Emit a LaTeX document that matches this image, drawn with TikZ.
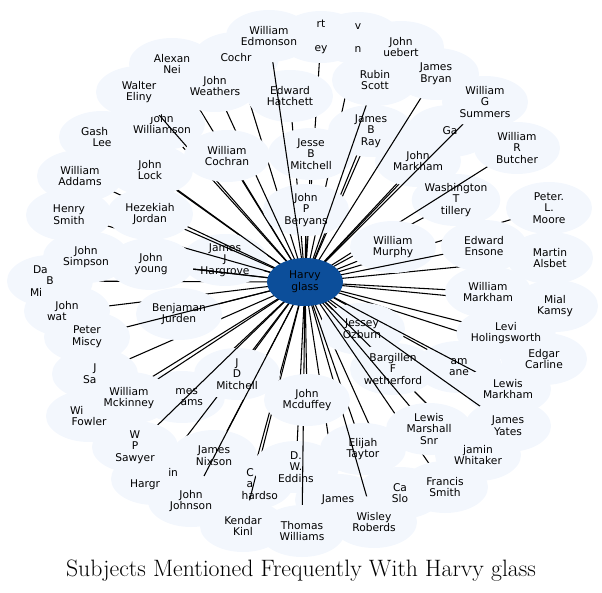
\documentclass[tikz,border=0pt]{standalone}
\usepackage{fontspec}
\newfontfamily\dejavu{DejaVu Sans}
\usetikzlibrary{shapes.geometric}
\definecolor{cloudfill}{RGB}{243,247,253}
\definecolor{hubblue}{RGB}{12,78,154}
\tikzset{
  edge/.style={draw=black,line width=0.8pt},
  subject/.style={ellipse,fill=cloudfill,draw=none,inner sep=0pt,
    minimum width=64.5pt,minimum height=39pt,align=center,
    font=\dejavu\fontsize{8}{8.8}\selectfont},
  subjtext/.style={inner sep=0pt,align=center,
    font=\dejavu\fontsize{8}{8.8}\selectfont},
  hub/.style={ellipse,fill=hubblue,draw=none,inner sep=0pt,
    minimum width=57pt,minimum height=36pt,align=center,
    font=\dejavu\fontsize{8}{8.8}\selectfont},
  titletext/.style={font=\fontsize{17.8}{21}\selectfont}
}
\newcommand\subjnode[3]{%
  \coordinate (#1-p) at #2;
  \draw[edge] (hc) -- (#1-p);
  \node[subject] (#1) at (#1-p) {#3};
}
\begin{document}
\begin{tikzpicture}[x=0.75pt,y=-0.75pt]
\useasboundingbox (0,0) rectangle (602,592);
\coordinate (hc) at (305,282);
% partly hidden nodes
\subjnode{fragrt}{(321,37)}{}
\subjnode{fragv}{(358,38)}{}
\subjnode{cochr}{(236,58)}{}
\subjnode{alexan}{(172,64)}{}
\subjnode{gash}{(102,137)}{}
\subjnode{dabmi}{(50,281)}{}
\subjnode{jsa}{(95,374)}{}
\subjnode{jadams}{(182,397)}{}
\subjnode{hargr}{(154,479)}{}
\subjnode{richardson}{(250,484)}{}
\subjnode{kendar}{(243,526)}{}
\subjnode{jamesq}{(338,500)}{}
\subjnode{caslo}{(400,493)}{}
\subjnode{whitaker}{(478,455)}{}
\subjnode{edgar}{(544,359)}{}
\subjnode{wfowler}{(89,416)}{}
\subjnode{jwatson}{(67,311)}{}
\subjnode{ga}{(450,131)}{}
\subjnode{jhuebert}{(401,47)}{}
\subjnode{amane}{(459,367)}{}
% inner nodes (crossed by later connectors)
\subjnode{hatchett}{(290,96)}{Edward\\Hatchett}
\subjnode{jbmitchell}{(311,154)}{Jesse\\B\\Mitchell}
\subjnode{jbray}{(371,131)}{James\\B\\Ray}
\subjnode{jmarkham}{(418,161)}{John\\Markham}
\subjnode{wttillery}{(456,200)}{Washington\\T\\tillery}
\subjnode{jjhargrove}{(225,260)}{James\\J\\Hargrove}
\subjnode{bjurden}{(179,314)}{Benjaman\\Jurden}
\subjnode{jwilliamson}{(162,124)}{John\\Williamson}
\subjnode{jnixson}{(214,456)}{James\\Nixson}
\subjnode{jdmitchell}{(237,374)}{J\\D\\Mitchell}
\subjnode{jozburn}{(362,329)}{Jessey\\Ozburn}
\subjnode{bfwetherford}{(393,369)}{Bargillen\\F\\wetherford}
\subjnode{etaytor}{(363,449)}{Elijah\\Taytor}
\subjnode{dweddins}{(296,467)}{D.\\W.\\Eddins}
\subjnode{jpberyans}{(306,210)}{John\\P\\Beryans}
% outer nodes
\subjnode{wedmonson}{(269,36)}{William\\Edmonson}
\subjnode{walter}{(139,92)}{Walter\\Eliny}
\subjnode{jweathers}{(215,86)}{John\\Weathers}
\subjnode{rscott}{(375,80)}{Rubin\\Scott}
\subjnode{jbryan}{(436,74)}{James\\Bryan}
\subjnode{wgsummers}{(485,102)}{William\\G\\Summers}
\subjnode{wrbutcher}{(517,148)}{William\\R\\Butcher}
\subjnode{plmoore}{(549,208)}{Peter.\\L.\\Moore}
\subjnode{malsbet}{(550,258)}{Martin\\Alsbet}
\subjnode{mkamsy}{(555,306)}{Mial\\Kamsy}
\subjnode{lmarkham}{(508,389)}{Lewis\\Markham}
\subjnode{jyates}{(508,426)}{James\\Yates}
\subjnode{fsmith}{(445,487)}{Francis\\Smith}
\subjnode{wroberds}{(374,522)}{Wisley\\Roberds}
\subjnode{twilliams}{(302,531)}{Thomas\\Williams}
\subjnode{jjohnson}{(191,501)}{John\\Johnson}
\subjnode{wpsawyer}{(135,447)}{W\\P\\Sawyer}
\subjnode{wmckinney}{(129,398)}{William\\Mckinney}
\subjnode{pmiscy}{(87,337)}{Peter\\Miscy}
\subjnode{jsimpson}{(86,257)}{John\\Simpson}
\subjnode{hsmith}{(69,215)}{Henry\\Smith}
\subjnode{waddams}{(80,176)}{William\\Addams}
% middle nodes
\subjnode{jlock}{(150,170)}{John\\Lock}
\subjnode{hjordan}{(150,214)}{Hezekiah\\Jordan}
\subjnode{jyoung}{(151,264)}{John\\young}
\subjnode{wcochran}{(227,156)}{William\\Cochran}
\subjnode{wmurphy}{(393,247)}{William\\Murphy}
\subjnode{eensone}{(484,246)}{Edward\\Ensone}
\subjnode{wmarkham}{(488,292)}{William\\Markham}
\subjnode{lholingsworth}{(506,333)}{Levi\\Holingsworth}
\subjnode{lmsnr}{(429,429)}{Lewis\\Marshall\\Snr}
\subjnode{jmcduffey}{(307,400)}{John\\Mcduffey}
% visible parts of the partly hidden labels
\node[subjtext] (amane-t) at (amane) {am\\ane};
\node[subjtext] (fragrt-t) at (fragrt) {rt\\\mbox{}\\ey};
\node[subjtext] (fragv-t) at (fragv) {v\\\mbox{}\\n};
\node[subjtext] (cochr-t) at (cochr) {Cochr};
\node[subjtext] (alexan-t) at (alexan) {Alexan\\Nei};
\node[subjtext] (gash-t) at (gash) {\makebox[31.5pt][l]{Gash}\\Lee};
\node[subjtext] (dabmi-t) at (dabmi) {\makebox[25.5pt][l]{Da}\\B\\\makebox[30pt][l]{Mi}};
\node[subjtext] (jsa-t) at (jsa) {J\\\makebox[18pt][l]{Sa}};
\node[subjtext] (jadams-t) at (jadams) {\makebox[24pt][r]{mes}\\\makebox[31.5pt][r]{ams}};
\node[subjtext] (hargr-t) at (hargr) {\makebox[36pt][r]{in}\\\makebox[36pt][l]{Hargr}};
\node[subjtext] (richardson-t) at (richardson) {C\\a\\\makebox[42pt][r]{hardso}};
\node[subjtext] (kendar-t) at (kendar) {Kendar\\Kinl};
\node[subjtext] (jamesq-t) at (jamesq) {James};
\node[subjtext] (caslo-t) at (caslo) {Ca\\Slo};
\node[subjtext] (whitaker-t) at (whitaker) {jamin\\Whitaker};
\node[subjtext] (edgar-t) at (edgar) {Edgar\\Carline};
\node[subjtext] (wfowler-t) at (wfowler) {\makebox[28.5pt][l]{Wi}\\Fowler};
\node[subjtext] (jwatson-t) at (jwatson) {John\\\makebox[30pt][l]{wat}};
\node[subjtext] (ga-t) at (ga) {Ga};
\node[subjtext] (jhuebert-t) at (jhuebert) {John\\uebert};
% hub
\node[hub] (harvy) at (hc) {Harvy\\glass};
% title
\node[titletext] (title) at (301,571) {Subjects Mentioned Frequently With Harvy glass};
\end{tikzpicture}
\end{document}
